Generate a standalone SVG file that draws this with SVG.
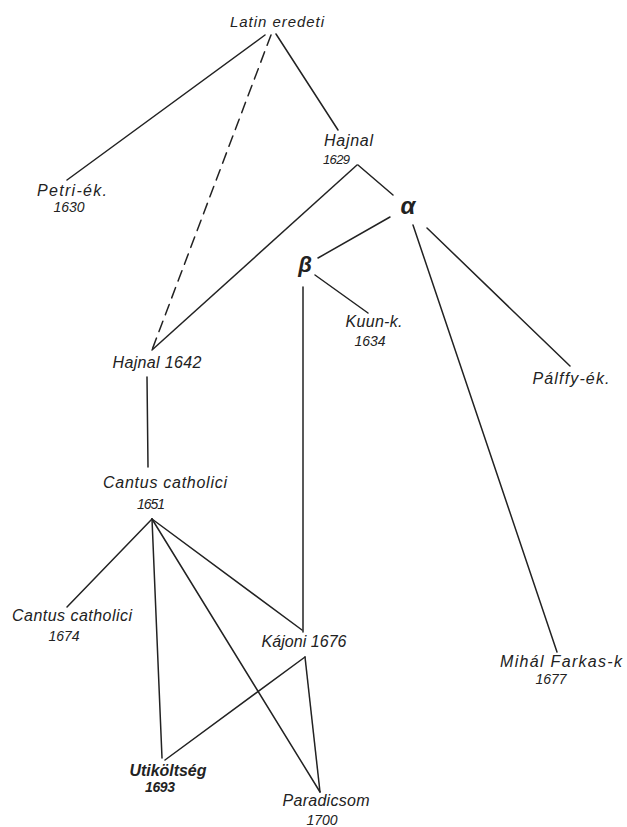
<svg xmlns="http://www.w3.org/2000/svg" width="627" height="827" viewBox="0 0 627 827">
<style>
.bg{fill:#fff}
.c line{stroke:#222;stroke-width:1.5;stroke-linecap:round;fill:none}
.c .d{stroke-dasharray:11 7}
text{font-family:"Liberation Sans",Arial,sans-serif;font-style:italic;fill:#222;text-anchor:middle}
.w{font-size:16px}
.n{font-size:14px}
.g{font-size:24px;font-weight:bold}
.l{text-anchor:start}
</style>
<rect class="bg" width="627" height="827"/>
<g class="c" id="connectors">
<line x1="265" y1="35" x2="67" y2="180"/>
<line class="d" x1="271" y1="35" x2="152" y2="350"/>
<line x1="276" y1="34" x2="338" y2="130"/>
<line x1="357" y1="165" x2="152" y2="350"/>
<line x1="358" y1="165" x2="393" y2="195"/>
<line x1="390" y1="217" x2="318" y2="258"/>
<line x1="315" y1="275" x2="368" y2="313"/>
<line x1="303" y1="287" x2="303" y2="632"/>
<line x1="413" y1="225" x2="557" y2="652"/>
<line x1="427" y1="228" x2="570" y2="366"/>
<line x1="147" y1="377" x2="148" y2="467"/>
<line x1="152" y1="519" x2="67" y2="607"/>
<line x1="152" y1="519" x2="162" y2="758"/>
<line x1="152" y1="519" x2="320" y2="792"/>
<line x1="152" y1="519" x2="302" y2="630"/>
<line x1="305" y1="657" x2="165" y2="760"/>
<line x1="305" y1="657" x2="320" y2="792"/>
</g>
<g id="latin"><text x="277" y="27" style="font-size:15px" textLength="94">Latin eredeti</text></g>
<g id="petri"><text class="w" x="72" y="196" textLength="70">Petri-ék.</text><text class="n" x="69" y="212">1630</text></g>
<g id="hajnal1629"><text class="w l" x="324" y="146" textLength="49">Hajnal</text><text class="n l" x="323" y="164" textLength="27" style="font-size:13px">1629</text></g>
<g id="alpha"><text class="g" x="408" y="214">α</text></g>
<g id="beta"><text class="g" x="305" y="272" style="font-size:22px">β</text></g>
<g id="kuun"><text class="w" x="374" y="327" textLength="57">Kuun-k.</text><text class="n" x="370" y="346">1634</text></g>
<g id="palffy"><text class="w" x="571" y="384" textLength="77">Pálffy-ék.</text></g>
<g id="hajnal1642"><text class="w" x="157" y="368" textLength="89">Hajnal 1642</text></g>
<g id="cantus1651"><text class="w" x="165" y="488" textLength="124">Cantus catholici</text><text class="n" x="151" y="509" textLength="28">1651</text></g>
<g id="cantus1674"><text class="w" x="72" y="621" textLength="120">Cantus catholici</text><text class="n" x="64" y="641">1674</text></g>
<g id="kajoni"><text class="w" x="304" y="647" textLength="85">Kájoni 1676</text></g>
<g id="mihal"><text class="w" x="561" y="667" textLength="122">Mihál Farkas-k</text><text class="n" x="551" y="684">1677</text></g>
<g id="utikoltseg"><text class="w" x="168" y="776" textLength="77" style="font-weight:bold">Utiköltség</text><text class="n" x="160" y="792" style="font-weight:bold" textLength="30">1693</text></g>
<g id="paradicsom"><text class="w" x="326" y="806" textLength="87">Paradicsom</text><text class="n" x="322" y="825">1700</text></g>
</svg>
